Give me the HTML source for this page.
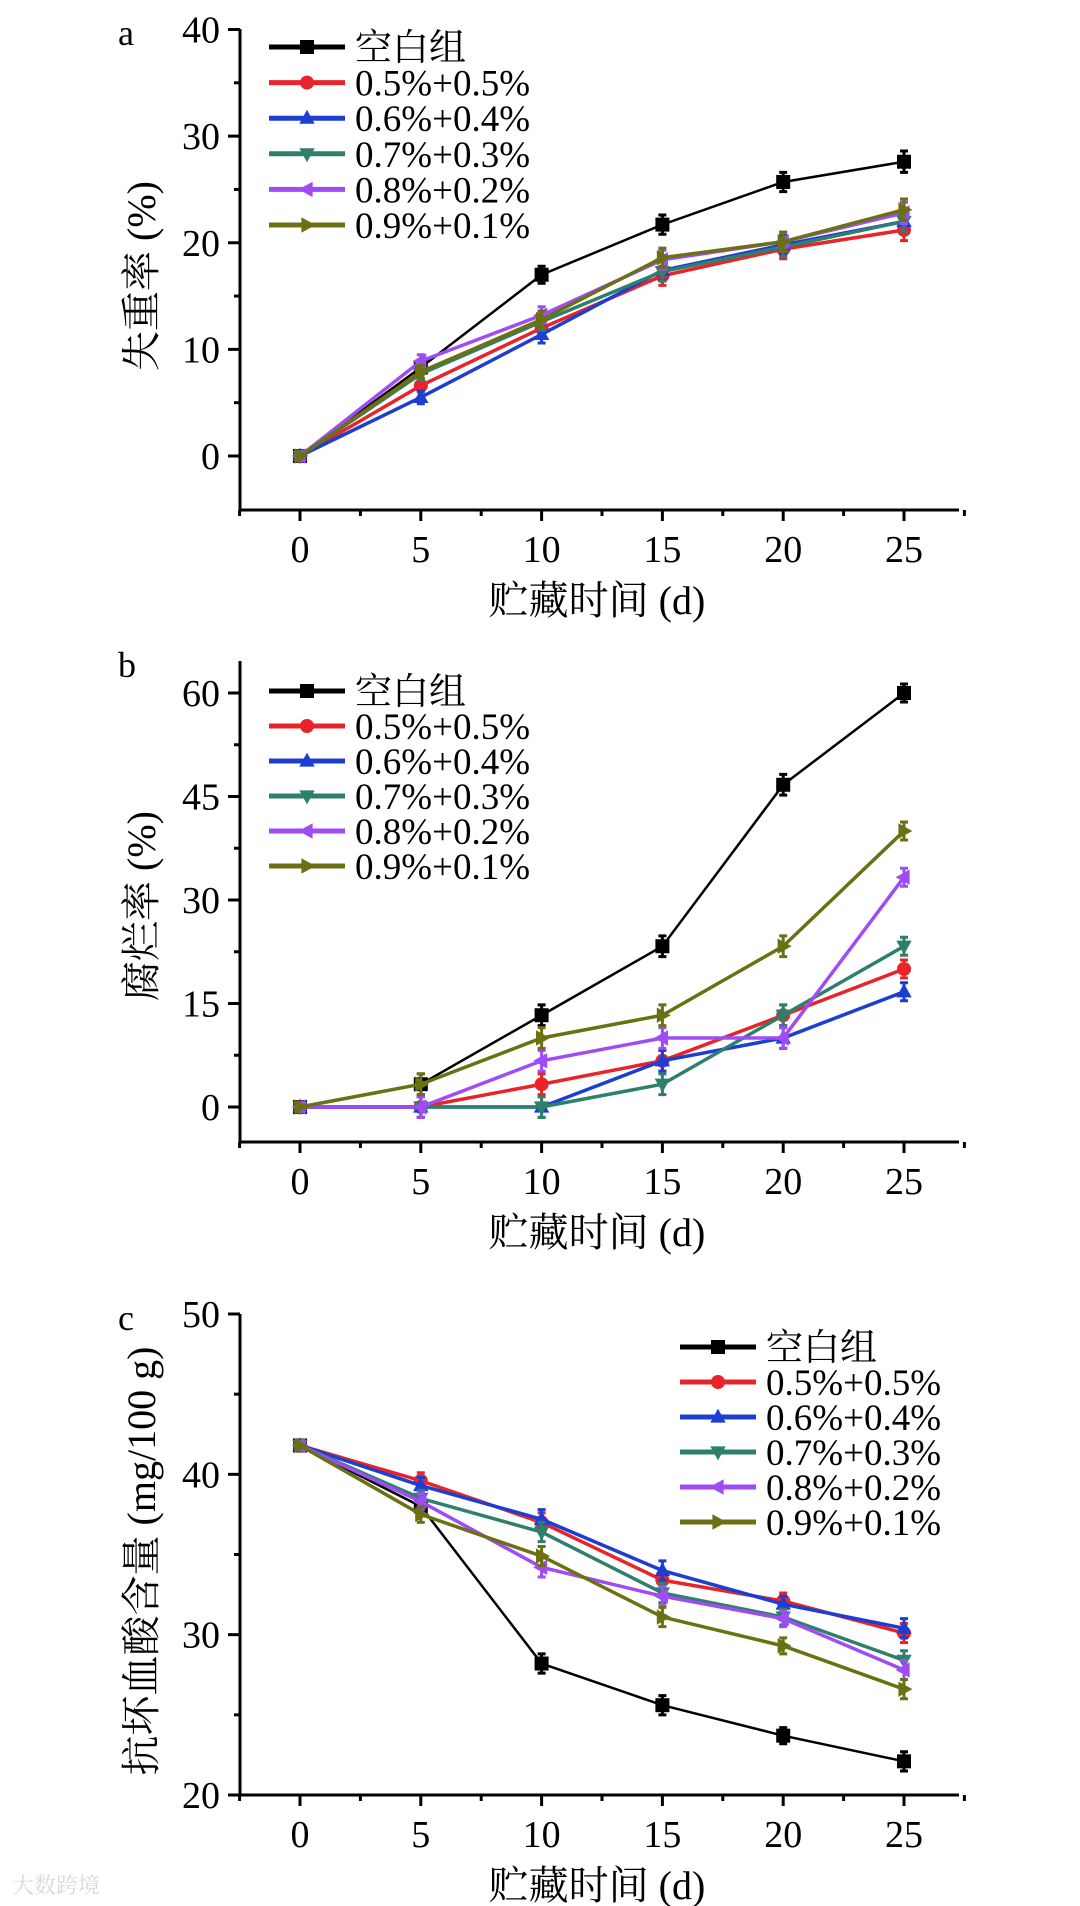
<!DOCTYPE html>
<html><head><meta charset="utf-8">
<style>
html,body{margin:0;padding:0;background:#fff;}
svg{display:block;}
text{font-family:"Liberation Serif","Noto Serif CJK SC","Noto Sans CJK SC",serif;fill:#000;}
</style></head>
<body>
<svg id="chart" width="1080" height="1906" viewBox="0 0 1080 1906" xmlns="http://www.w3.org/2000/svg"></svg>
<script>
const days = [0, 5, 10, 15, 20, 25];
const xTicks = [0, 5, 10, 15, 20, 25];
const seriesNames = ["空白组", "0.5%+0.5%", "0.6%+0.4%", "0.7%+0.3%", "0.8%+0.2%", "0.9%+0.1%"];
// Panel a: weight loss (%)
const aBlank = [0, 8.3, 17.0, 21.7, 25.7, 27.6];
const a55 = [0, 6.6, 12.0, 16.9, 19.4, 21.2];
const a64 = [0, 5.5, 11.4, 17.4, 19.8, 22.0];
const a73 = [0, 7.7, 12.6, 17.3, 19.6, 22.0];
const a82 = [0, 8.9, 13.2, 18.4, 20.1, 22.8];
const a91 = [0, 7.9, 12.8, 18.6, 20.1, 23.1];
const aErr = [0, 0.6, 0.8, 0.9, 0.9, 1.0];
const aTicks = [0, 10, 20, 30, 40];
// Panel b: decay rate (%)
const bBlank = [0, 3.3, 13.3, 23.3, 46.7, 60.0];
const b55 = [0, 0, 3.3, 6.7, 13.3, 20.0];
const b64 = [0, 0, 0, 6.7, 10.0, 16.7];
const b73 = [0, 0, 0, 3.3, 13.3, 23.3];
const b82 = [0, 0, 6.7, 10.0, 10.0, 33.3];
const b91 = [0, 3.3, 10.0, 13.3, 23.3, 40.0];
const bErr = [0, 1.5, 1.5, 1.5, 1.5, 1.3];
const bTicks = [0, 15, 30, 45, 60];
// Panel c: ascorbic acid (mg/100 g)
const cBlank = [41.8, 38.0, 28.2, 25.6, 23.7, 22.1];
const c55 = [41.8, 39.6, 37.0, 33.4, 32.1, 30.1];
const c64 = [41.8, 39.3, 37.2, 34.0, 31.9, 30.4];
const c73 = [41.8, 38.5, 36.4, 32.6, 31.1, 28.4];
const c82 = [41.8, 38.3, 34.2, 32.4, 31.0, 27.8];
const c91 = [41.8, 37.5, 34.9, 31.1, 29.3, 26.6];
const cErr = [0, 0.5, 0.6, 0.6, 0.5, 0.6];
const cTicks = [20, 30, 40, 50];

const colors = ["#000000", "#e8242a", "#1c3fd2", "#2e806c", "#a04cf5", "#6b7012"];
const markers = ["square", "circle", "up", "down", "left", "right"];
const NS = "http://www.w3.org/2000/svg";
const svg = document.getElementById("chart");
function mk(tag, attrs, parent) {
  const e = document.createElementNS(NS, tag);
  for (const k in attrs) e.setAttribute(k, attrs[k]);
  (parent || svg).appendChild(e);
  return e;
}
const X0 = 300, X25 = 904;
function xScale(d) { return X0 + (X25 - X0) * d / 25; }

function marker(g, type, x, y, c, s) {
  let el;
  if (type === "square") el = mk("rect", {x: x - s, y: y - s, width: 2 * s, height: 2 * s, fill: c}, g);
  else if (type === "circle") el = mk("circle", {cx: x, cy: y, r: s, fill: c}, g);
  else {
    let p;
    if (type === "up") p = [[x, y - s * 1.2], [x - s * 1.1, y + s * 0.8], [x + s * 1.1, y + s * 0.8]];
    if (type === "down") p = [[x, y + s * 1.2], [x - s * 1.1, y - s * 0.8], [x + s * 1.1, y - s * 0.8]];
    if (type === "left") p = [[x - s * 1.2, y], [x + s * 0.8, y - s * 1.1], [x + s * 0.8, y + s * 1.1]];
    if (type === "right") p = [[x + s * 1.2, y], [x - s * 0.8, y - s * 1.1], [x - s * 0.8, y + s * 1.1]];
    el = mk("polygon", {points: p.map(q => q.join(",")).join(" "), fill: c}, g);
  }
  
  
}

function panel(cfg) {
  const g = mk("g", {});
  
  
  const yS = v => cfg.yBot + (cfg.yTop - cfg.yBot) * (v - cfg.vBot) / (cfg.vTop - cfg.vBot);
  // axes
  const ax = mk("path", {d: `M240 ${cfg.axisTop} V${cfg.axisBottom} H959`, stroke: "#000", "stroke-width": 3, fill: "none"}, g);
  
  
  // y ticks
  const step = cfg.ticks[1] - cfg.ticks[0];
  cfg.ticks.forEach((t, i) => {
    const y = yS(t);
    const tk = mk("line", {x1: 228, x2: 240, y1: y, y2: y, stroke: "#000", "stroke-width": 3}, g);
    
    
    const lb = mk("text", {x: 220, y: y + 13, "text-anchor": "end", "font-size": 38}, g);
    lb.textContent = t;
    
    
    const ym = yS(t + step / 2);
    if (ym >= cfg.axisTop - 1 && i < cfg.ticks.length) {
      const mn = mk("line", {x1: 234, x2: 240, y1: ym, y2: ym, stroke: "#000", "stroke-width": 3}, g);
      
      
    }
  });
  const ymLow = yS(cfg.ticks[0] - step / 2);
  if (ymLow < cfg.axisBottom - 2) {
    const mn = mk("line", {x1: 234, x2: 240, y1: ymLow, y2: ymLow, stroke: "#000", "stroke-width": 3}, g);
    
    
  }
  // x ticks
  xTicks.forEach(t => {
    const x = xScale(t);
    const tk = mk("line", {x1: x, x2: x, y1: cfg.axisBottom, y2: cfg.axisBottom + 11, stroke: "#000", "stroke-width": 3}, g);
    
    
    const lb = mk("text", {x: x, y: cfg.axisBottom + 52, "text-anchor": "middle", "font-size": 38}, g);
    lb.textContent = t;
    
    
  });
  [-2.5, 2.5, 7.5, 12.5, 17.5, 22.5, 27.5].forEach(t => {
    const x = xScale(t);
    const mn = mk("line", {x1: x, x2: x, y1: cfg.axisBottom, y2: cfg.axisBottom + 6, stroke: "#000", "stroke-width": 3}, g);
    
    
  });
  const xt = mk("text", {x: 597, y: cfg.axisBottom + 104, "text-anchor": "middle", "font-size": 40}, g);
  xt.textContent = "贮藏时间 (d)";
  
  
  const yt = mk("text", {x: 0, y: 0, "text-anchor": "middle", "font-size": 40, transform: `translate(155 ${cfg.yTitleY}) rotate(-90)`}, g);
  yt.textContent = cfg.yTitle;
  
  
  const pl = mk("text", {x: 118, y: cfg.axisTop + 16, "font-size": 36}, g);
  pl.textContent = cfg.letter;
  
  
  // series
  cfg.series.forEach((vals, si) => {
    const c = colors[si];
    const sg = mk("g", {}, g);
    
    
    const pts = vals.map((v, i) => [xScale(days[i]), yS(v)]);
    const ln = mk("polyline", {points: pts.map(p => p.join(",")).join(" "), fill: "none", stroke: c, "stroke-width": si === 0 ? 2.5 : 3.5}, sg);
    
    
    vals.forEach((v, i) => {
      const e = cfg.err[i];
      if (e > 0) {
        const x = xScale(days[i]), y1 = yS(v + e), y2 = yS(v - e);
        const eb = mk("path", {d: `M${x} ${y1} V${y2} M${x - 4} ${y1} H${x + 4} M${x - 4} ${y2} H${x + 4}`, stroke: c, "stroke-width": 3, fill: "none"}, sg);
        
        
      }
      marker(sg, markers[si], xScale(days[i]), yS(v), c, 7);
    });
  });
  // legend
  const lg = mk("g", {}, g);
  
  
  seriesNames.forEach((n, i) => {
    const y = cfg.legY + i * cfg.legDy;
    const eg = mk("g", {}, lg);
    
    
    mk("line", {x1: cfg.legX, x2: cfg.legX + 76, y1: y, y2: y, stroke: colors[i], "stroke-width": 5}, eg);
    marker(eg, markers[i], cfg.legX + 38, y, colors[i], 7);
    const t = mk("text", {x: cfg.legX + 86, y: y + 13, "font-size": 37}, eg);
    t.textContent = n;
  });
}

panel({name: "panel-a-weight-loss", letter: "a", yTitle: "失重率 (%)", yTitleY: 276,
  axisTop: 29, axisBottom: 510, yTop: 29.5, yBot: 456, vTop: 40, vBot: 0, ticks: aTicks,
  series: [aBlank, a55, a64, a73, a82, a91], err: aErr, legX: 269, legY: 47, legDy: 35.6});
panel({name: "panel-b-decay-rate", letter: "b", yTitle: "腐烂率 (%)", yTitleY: 906,
  axisTop: 661, axisBottom: 1142, yTop: 693, yBot: 1107, vTop: 60, vBot: 0, ticks: bTicks,
  series: [bBlank, b55, b64, b73, b82, b91], err: bErr, legX: 269, legY: 691, legDy: 35});
panel({name: "panel-c-ascorbic-acid", letter: "c", yTitle: "抗坏血酸含量 (mg/100 g)", yTitleY: 1561,
  axisTop: 1314, axisBottom: 1795, yTop: 1314, yBot: 1795, vTop: 50, vBot: 20, ticks: cTicks,
  series: [cBlank, c55, c64, c73, c82, c91], err: cErr, legX: 680, legY: 1347, legDy: 35});

const wm = mk("text", {x: 12, y: 1893, "font-size": 22, fill: "#d8d8d8", style: "fill:#d8d8d8"});
wm.textContent = "大数跨境";


</script>
</body></html>
